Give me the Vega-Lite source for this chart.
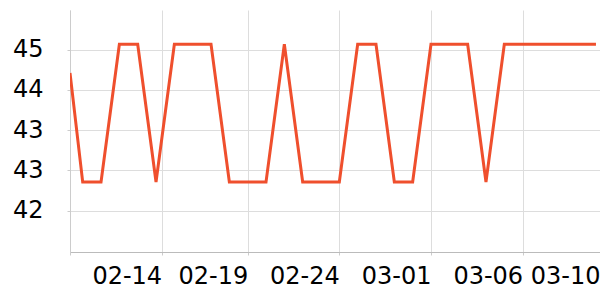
{
  "$schema": "https://vega.github.io/schema/vega-lite/v6.json",
  "autosize": {"type": "none"},
  "padding": {"left": 70, "top": 10, "right": 0, "bottom": 48},
  "width": 530,
  "height": 242,
  "background": "white",
  "config": {
    "view": {"stroke": null},
    "font": "DejaVu Sans",
    "axis": {
      "labelFont": "DejaVu Sans",
      "labelFontSize": 24,
      "labelColor": "#000000",
      "gridColor": "#dddddd",
      "gridWidth": 1,
      "domainColor": "#cccccc",
      "tickColor": "#cccccc",
      "tickSize": 3,
      "title": null
    }
  },
  "data": {
    "values": [
      {"date": "2023-02-09T07:22:00Z", "value": 44.54},
      {"date": "2023-02-10T00:00:00Z", "value": 42.37},
      {"date": "2023-02-11T00:00:00Z", "value": 42.37},
      {"date": "2023-02-12T00:00:00Z", "value": 45.11},
      {"date": "2023-02-13T00:00:00Z", "value": 45.11},
      {"date": "2023-02-14T00:00:00Z", "value": 42.37},
      {"date": "2023-02-15T00:00:00Z", "value": 45.11},
      {"date": "2023-02-16T00:00:00Z", "value": 45.11},
      {"date": "2023-02-17T00:00:00Z", "value": 45.11},
      {"date": "2023-02-18T00:00:00Z", "value": 42.37},
      {"date": "2023-02-19T00:00:00Z", "value": 42.37},
      {"date": "2023-02-20T00:00:00Z", "value": 42.37},
      {"date": "2023-02-21T00:00:00Z", "value": 45.11},
      {"date": "2023-02-22T00:00:00Z", "value": 42.37},
      {"date": "2023-02-23T00:00:00Z", "value": 42.37},
      {"date": "2023-02-24T00:00:00Z", "value": 42.37},
      {"date": "2023-02-25T00:00:00Z", "value": 45.11},
      {"date": "2023-02-26T00:00:00Z", "value": 45.11},
      {"date": "2023-02-27T00:00:00Z", "value": 42.37},
      {"date": "2023-02-28T00:00:00Z", "value": 42.37},
      {"date": "2023-03-01T00:00:00Z", "value": 45.11},
      {"date": "2023-03-02T00:00:00Z", "value": 45.11},
      {"date": "2023-03-03T00:00:00Z", "value": 45.11},
      {"date": "2023-03-04T00:00:00Z", "value": 42.37},
      {"date": "2023-03-05T00:00:00Z", "value": 45.11},
      {"date": "2023-03-06T00:00:00Z", "value": 45.11},
      {"date": "2023-03-07T00:00:00Z", "value": 45.11},
      {"date": "2023-03-08T00:00:00Z", "value": 45.11},
      {"date": "2023-03-09T00:00:00Z", "value": 45.11},
      {"date": "2023-03-10T00:00:00Z", "value": 45.11}
    ]
  },
  "mark": {"type": "line", "color": "#ef4f2d", "strokeWidth": 3, "clip": true},
  "encoding": {
    "x": {
      "field": "date",
      "type": "temporal",
      "scale": {
        "type": "utc",
        "domain": [
          {"year": 2023, "month": 2, "date": 9, "hours": 7, "minutes": 22, "utc": true},
          {"year": 2023, "month": 3, "date": 10, "hours": 5, "minutes": 17, "utc": true}
        ]
      },
      "axis": {
        "values": [
          {"year": 2023, "month": 2, "date": 9, "hours": 7, "minutes": 22, "utc": true},
          {"year": 2023, "month": 2, "date": 14, "hours": 7, "minutes": 22, "utc": true},
          {"year": 2023, "month": 2, "date": 19, "utc": true},
          {"year": 2023, "month": 2, "date": 24, "utc": true},
          {"year": 2023, "month": 3, "date": 1, "utc": true},
          {"year": 2023, "month": 3, "date": 6, "utc": true},
          {"year": 2023, "month": 3, "date": 10, "hours": 5, "minutes": 17, "utc": true}
        ],
        "labelExpr": "datum.index == 0 ? '' : utcFormat(datum.value, '%m-%d')",
        "labelAlign": "right",
        "labelBaseline": "top",
        "labelPadding": 9,
        "labelOverlap": false,
        "labelFlush": false,
        "labelBound": false,
        "grid": true,
        "domainColor": "#bbbbbb"
      }
    },
    "y": {
      "field": "value",
      "type": "quantitative",
      "scale": {"domain": [40.98, 45.79], "nice": false, "zero": false},
      "axis": {
        "values": [41.8, 42.6, 43.4, 44.2, 45.0],
        "format": ".0f",
        "labelPadding": 24,
        "grid": true
      }
    }
  }
}
